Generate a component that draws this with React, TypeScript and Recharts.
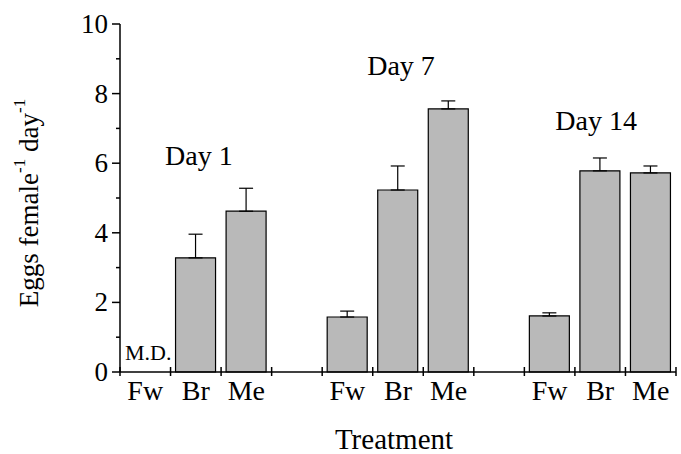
import React from 'react';
import { BarChart, Bar, XAxis, YAxis, ErrorBar, ReferenceDot, Label } from 'recharts';

// slots: three treatments per day, with empty spacer slots between days
const slotIds = ['Fw1', 'Br1', 'Me1', 'gap1', 'Fw7', 'Br7', 'Me7', 'gap2', 'Fw14', 'Br14', 'Me14'];
const slotLabels = ['Fw', 'Br', 'Me', '', 'Fw', 'Br', 'Me', '', 'Fw', 'Br', 'Me'];
const eggMeans = [null, 3.28, 4.62, null, 1.58, 5.23, 7.56, null, 1.61, 5.78, 5.72];
const eggErrors = [null, 0.68, 0.66, null, 0.17, 0.69, 0.23, null, 0.09, 0.37, 0.2];
const yTicks = [0, 1, 2, 3, 4, 5, 6, 7, 8, 9, 10];

const dayLabels = [
    { x: 'Br1', y: 6.24, text: 'Day 1', dx: 3 },
    { x: 'Br7', y: 8.82, text: 'Day 7', dx: 3 },
    { x: 'Br14', y: 7.24, text: 'Day 14', dx: -4 },
];

const data = slotIds.map((id, i) => ({
    id,
    label: slotLabels[i],
    eggs: eggMeans[i],
    err: eggErrors[i] == null ? undefined : [0, eggErrors[i]],
}));

const FONT = '"Liberation Serif", "Times New Roman", serif';
const W = 681;
const H = 454;
const LEFT = 120;
const RIGHT = 5;
const BAND = (W - LEFT - RIGHT) / slotIds.length;

const XTick = (props: any) => {
    const { x, y, payload, index } = props;
    const i = index ?? payload.index;
    return (
        <g>
            <line x1={x - BAND / 2} x2={x - BAND / 2} y1={y - 5} y2={y + 4} stroke="#000" strokeWidth={1.5} />
            {i === slotIds.length - 1 && (
                <line x1={x + BAND / 2} x2={x + BAND / 2} y1={y - 5} y2={y + 4} stroke="#000" strokeWidth={1.5} />
            )}
            <text x={x} y={y + 28} textAnchor="middle" fontSize={28} fontFamily={FONT} fill="#000">
                {slotLabels[slotIds.indexOf(payload.value)]}
            </text>
        </g>
    );
};

const YTick = (props: any) => {
    const { x, y, payload } = props;
    const major = payload.value % 2 === 0;
    return (
        <g>
            <line x1={x - (major ? 8 : 4)} x2={x} y1={y} y2={y} stroke="#000" strokeWidth={1.5} />
            {major && (
                <text x={x - 12} y={y} dy={9} textAnchor="end" fontSize={27} fontFamily={FONT} fill="#000">
                    {payload.value}
                </text>
            )}
        </g>
    );
};

const YTitle = (props: any) => {
    const cx = 29;
    const cy = 203;
    return (
        <text
            x={cx}
            y={cy}
            transform={`rotate(-90, ${cx}, ${cy})`}
            textAnchor="middle"
            dominantBaseline="central"
            fontSize={27}
            fontFamily={FONT}
            fill="#000"
        >
            Eggs female<tspan dy={-10} fontSize={17}>-1</tspan>
            <tspan dy={10}> day</tspan>
            <tspan dy={-10} fontSize={17}>-1</tspan>
        </text>
    );
};

const XTitle = (props: any) => {
    const { viewBox } = props;
    return (
        <text x={viewBox.x + viewBox.width / 2 - 4} y={449} textAnchor="middle" fontSize={29} fontFamily={FONT} fill="#000">
            Treatment
        </text>
    );
};

export default function App() {
    return (
        <div style={{ position: 'absolute', left: 0, top: 0, width: W, height: H, background: '#fff' }}>
            <BarChart width={W} height={H} data={data} margin={{ top: 24, right: RIGHT, bottom: 42, left: 0 }} barSize={40}>
                <XAxis
                    dataKey="id"
                    type="category"
                    interval={0}
                    height={40}
                    tickSize={0}
                    tickMargin={0}
                    tickLine={false}
                    axisLine={{ stroke: '#000', strokeWidth: 1.5 }}
                    tick={<XTick />}
                >
                    <Label content={<XTitle />} />
                </XAxis>
                <YAxis
                    domain={[0, 10]}
                    ticks={yTicks}
                    interval={0}
                    width={LEFT}
                    tickSize={0}
                    tickMargin={0}
                    tickLine={false}
                    axisLine={{ stroke: '#000', strokeWidth: 1.5 }}
                    tick={<YTick />}
                >
                    <Label content={<YTitle />} />
                </YAxis>
                <Bar dataKey="eggs" fill="#b9b9b9" stroke="#000" strokeWidth={1.2} isAnimationActive={false}>
                    <ErrorBar dataKey="err" width={7} stroke="#000" strokeWidth={1.2} direction="y" isAnimationActive={false} />
                </Bar>
                {dayLabels.map(d => (
                    <ReferenceDot
                        key={d.text}
                        x={d.x}
                        y={d.y}
                        r={0}
                        fill="none"
                        stroke="none"
                        label={{ value: d.text, position: 'center', dx: d.dx, fontSize: 28, fontFamily: FONT, fill: '#000' }}
                    />
                ))}
                <ReferenceDot
                    x="Fw1"
                    y={0.57}
                    r={0}
                    fill="none"
                    stroke="none"
                    label={{ value: 'M.D.', position: 'center', dx: 3, fontSize: 22, fontFamily: FONT, fill: '#000' }}
                />
            </BarChart>
        </div>
    );
}
